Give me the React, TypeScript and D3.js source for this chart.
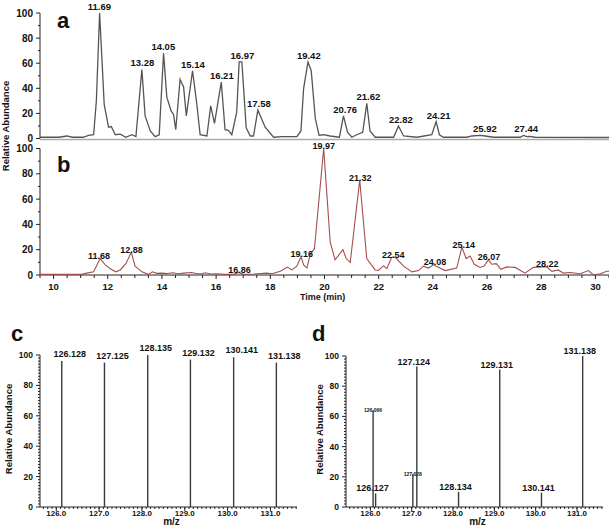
import React from 'react'
import * as d3 from 'd3'

const FONT = '"Liberation Sans", Arial, Helvetica, sans-serif'

// chromatogram a: retention time (min) and relative abundance
const timeA = [9.5, 10.2, 10.49, 10.7, 11.1, 11.29, 11.48, 11.58, 11.7, 11.87, 12.03, 12.13, 12.28, 12.46, 12.67, 12.89, 13.04, 13.26, 13.38, 13.57, 13.75, 13.9, 14.06, 14.18, 14.34, 14.43, 14.51, 14.67, 14.8, 14.9, 15.13, 15.29, 15.41, 15.66, 15.8, 15.94, 16.19, 16.33, 16.45, 16.58, 16.76, 16.85, 16.95, 17.11, 17.26, 17.38, 17.54, 17.81, 18.12, 18.42, 18.73, 18.98, 19.13, 19.23, 19.39, 19.51, 19.66, 19.8, 19.96, 20.21, 20.55, 20.7, 20.85, 21.01, 21.19, 21.41, 21.56, 21.68, 21.87, 22.55, 22.73, 22.92, 23.41, 23.96, 24.12, 24.24, 24.39, 25.25, 25.44, 25.75, 25.93, 26.24, 27.22, 27.34, 27.47, 27.59, 27.77, 30.5]
const abundA = [1, 1, 2, 1, 1, 2.5, 3, 30, 100, 27, 9, 9.5, 3, 3.5, 1, 3, 1.5, 55, 18, 6, 1.5, 3, 68, 33, 22, 19, 7, 47, 41, 18, 54, 27, 3, 2, 26, 12, 45, 7, 6.5, 3, 21, 61, 61, 8.5, 2, 2, 22.6, 9, 1, 1.5, 1.5, 1.5, 6, 40, 61, 54, 16, 2.5, 3, 2, 1, 18, 5, 1, 3, 5, 28, 6, 1, 1, 10, 2, 1, 3, 13.5, 3, 1, 1, 2, 2.5, 2, 1, 1, 2.5, 1.5, 1.7, 1, 0.8]
const peakTimeA = [11.69, 13.28, 14.05, 15.14, 16.21, 16.97, 17.58, 19.42, 20.76, 21.62, 22.82, 24.21, 25.92, 27.44]
const peakTopA = [100, 55, 68, 54, 45, 61, 22.6, 61, 18, 28, 10, 13.5, 2.5, 2.5]

// chromatogram b
const timeB = [9.5, 11.04, 11.23, 11.48, 11.72, 11.91, 12.09, 12.3, 12.46, 12.67, 12.87, 13.01, 13.26, 13.5, 13.65, 13.81, 13.99, 14.2, 14.4, 14.6, 14.8, 15.1, 15.3, 15.47, 15.6, 15.8, 16.0, 16.3, 16.64, 16.83, 17.01, 17.4, 17.87, 18.06, 18.37, 18.63, 18.79, 18.98, 19.13, 19.23, 19.35, 19.47, 19.63, 19.97, 20.21, 20.39, 20.68, 20.8, 20.95, 21.3, 21.56, 21.87, 21.99, 22.18, 22.3, 22.48, 22.61, 22.92, 23.23, 23.47, 23.65, 23.84, 24.02, 24.45, 24.88, 25.07, 25.23, 25.37, 25.53, 25.74, 25.89, 26.05, 26.17, 26.34, 26.51, 26.73, 27.04, 27.4, 27.71, 28.02, 28.2, 28.39, 28.63, 28.82, 29.07, 29.44, 29.74, 29.93, 30.18, 30.42, 30.5]
const abundB = [0.5, 0.5, 1.5, 2.5, 13, 8, 5, 2.5, 4, 9, 18, 7, 2.5, 0.5, 2.5, 1.3, 1.5, 1.2, 1.8, 1, 1.5, 2, 1, 1, 1.8, 0.8, 1, 0.5, 0.5, 2, 0.5, 0.8, 1.5, 1, 3, 6.3, 4, 7, 14.4, 8, 5.5, 16, 21, 100, 26, 12, 20, 13, 10, 75, 13, 4, 3.6, 7.4, 5, 14, 14, 7, 2.5, 3.5, 7, 5.5, 8, 3.5, 5.5, 22, 13, 15, 8.5, 6, 7, 12, 8.5, 9, 4.5, 6.4, 6, 1.5, 6, 6.4, 6.4, 2.9, 4, 1.5, 2, 1, 3.5, 0, 1, 3, 3]
const peakTimeB = [11.68, 12.88, 16.86, 19.16, 19.97, 21.32, 22.54, 24.08, 25.14, 26.07, 28.22]
const peakTopB = [13, 18, 2, 14.4, 100, 75, 14, 8, 22, 12, 6.4]

const timeTicks = [10, 12, 14, 16, 18, 20, 22, 24, 26, 28, 30]
const abundTicks = [0, 20, 40, 60, 80, 100]

// reporter ion spectra c and d
const mzC = [126.128, 127.125, 128.135, 129.132, 130.141, 131.138]
const intC = [96, 95, 100, 97, 98.5, 95]
const mzD = [126.066, 126.127, 127.028, 127.124, 128.134, 129.131, 130.141, 131.138]
const intD = [64, 9, 22, 93, 10, 91, 9.5, 100]
const smallLabelD = [true, false, true, false, false, false, false, false]
const mzTicks = [126, 127, 128, 129, 130, 131]

const x = d3.scaleLinear().domain([9.5, 30.5]).range([40, 609])
const yA = d3.scaleLinear().domain([0, 100]).range([138.5, 13])
const yB = d3.scaleLinear().domain([0, 100]).range([275, 148.5])
const xC = d3.scaleLinear().domain([125.62, 131.62]).range([40, 297])
const yC = d3.scaleLinear().domain([0, 100]).range([507, 355])
const xD = d3.scaleLinear().domain([125.41, 131.63]).range([346, 603])
const yD = d3.scaleLinear().domain([0, 100]).range([507, 356])

function YAxis({ left, y, size, minorStep }) {
  const minors = d3.range(0, 100.01, minorStep)
  return (
    <g>
      <line x1={left} x2={left} y1={y(100)} y2={y(0)} stroke="#222" />
      {minors.map((v) => (
        <line key={'m' + v} x1={left - (v % 20 === 0 ? 4 : 2)} x2={left} y1={y(v)} y2={y(v)} stroke="#222" />
      ))}
      {abundTicks.map((v) => (
        <text key={v} x={left - 7} y={y(v) + size * 0.36} fontSize={size} fontWeight="bold" textAnchor="end">{v}</text>
      ))}
    </g>
  )
}

function Spectrum({ xs, ys, mz, inten, left, right, labelX, letter, letterX, dx, dy, small }) {
  const minorX = d3.range(Math.ceil(xs.domain()[0] * 10) / 10, xs.domain()[1], 0.1)
  return (
    <g>
      <YAxis left={left} y={ys} size={8.5} minorStep={2} />
      <line x1={left} x2={right} y1={ys(0)} y2={ys(0)} stroke="#222" />
      {minorX.map((v, i) => (
        <line key={i} x1={xs(v)} x2={xs(v)} y1={ys(0)} y2={ys(0) + 2} stroke="#222" />
      ))}
      {mzTicks.map((v) => (
        <g key={v}>
          <line x1={xs(v)} x2={xs(v)} y1={ys(0)} y2={ys(0) + 4} stroke="#222" />
          <text x={xs(v)} y={515.5} fontSize={8} fontWeight="bold" textAnchor="middle">{v.toFixed(1)}</text>
        </g>
      ))}
      {mz.map((m, i) => (
        <g key={m}>
          <line x1={xs(m)} x2={xs(m)} y1={ys(0)} y2={ys(inten[i])} stroke="#3a3a3a" strokeWidth={1.4} />
          <text x={xs(m) + (small && small[i] ? 0 : dx)} y={ys(inten[i]) + (small && small[i] ? 2 : dy)}
            fontSize={small && small[i] ? 5 : 9} fontWeight="bold" textAnchor="middle">{m.toFixed(3)}</text>
        </g>
      ))}
      <text x={(left + right) / 2 + 3} y={525} fontSize={10} fontWeight="bold" textAnchor="middle">m/z</text>
      <text transform={`translate(${labelX},${(ys(0) + ys(100)) / 2 - 2}) rotate(-90)`} fontSize={9.5} fontWeight="bold" textAnchor="middle">Relative Abundance</text>
      <text x={letterX} y={341} fontSize={22} fontWeight="bold">{letter}</text>
    </g>
  )
}

export default function App() {
  const lineA = d3.line<number>().x((d, i) => x(timeA[i])).y((d) => yA(d))
  const lineB = d3.line<number>().x((d, i) => x(timeB[i])).y((d) => yB(d))
  const halfTicks = d3.range(9.5, 30.51, 0.5)

  return (
    <svg width={609} height={529} style={{ position: 'absolute', left: 0, top: 0, background: '#fff' }}
      fontFamily={FONT} fill="#111">
      {/* panel a */}
      <line x1={40} x2={609} y1={139.5} y2={139.5} stroke="#aaa" strokeWidth={1.5} />
      <YAxis left={40} y={yA} size={10} minorStep={10} />
      <path d={lineA(abundA) || ''} fill="none" stroke="#555" strokeWidth={1.3} />
      {peakTimeA.map((t, i) => (
        <text key={t} x={x(t)} y={yA(peakTopA[i]) - 3} fontSize={9.5} fontWeight="bold" textAnchor="middle">{t.toFixed(2)}</text>
      ))}
      <text x={57} y={28} fontSize={22} fontWeight="bold">a</text>

      {/* panel b */}
      <YAxis left={40} y={yB} size={10} minorStep={10} />
      <line x1={40} x2={609} y1={yB(0)} y2={yB(0)} stroke="#222" />
      {halfTicks.map((t) => (
        <line key={t} x1={x(t)} x2={x(t)} y1={yB(0)} y2={yB(0) + (t % 2 === 0 ? 4 : 3)} stroke="#222" />
      ))}
      {timeTicks.map((t) => (
        <text key={t} x={x(t)} y={290} fontSize={9.5} fontWeight="bold" textAnchor="middle">{t}</text>
      ))}
      <path d={lineB(abundB) || ''} fill="none" stroke="#a34f4f" strokeWidth={1.1} />
      {peakTimeB.map((t, i) => (
        <text key={t} x={x(t)} y={yB(peakTopB[i]) + 0.5} fontSize={9} fontWeight="bold" textAnchor="middle">{t.toFixed(2)}</text>
      ))}
      <text x={57} y={172} fontSize={22} fontWeight="bold">b</text>
      <text x={300} y={300} fontSize={9} fontWeight="bold">Time (min)</text>
      <text transform="translate(9,126) rotate(-90)" fontSize={9.5} fontWeight="bold" textAnchor="middle">Relative Abundance</text>

      {/* panel c */}
      <Spectrum xs={xC} ys={yC} mz={mzC} inten={intC} left={40} right={297} labelX={11.5} letter="c" letterX={11} dx={8} dy={-4} small={null} />
      {/* panel d */}
      <Spectrum xs={xD} ys={yD} mz={mzD} inten={intD} left={346} right={603} labelX={322.5} letter="d" letterX={312} dx={-3} dy={-2} small={smallLabelD} />
    </svg>
  )
}
